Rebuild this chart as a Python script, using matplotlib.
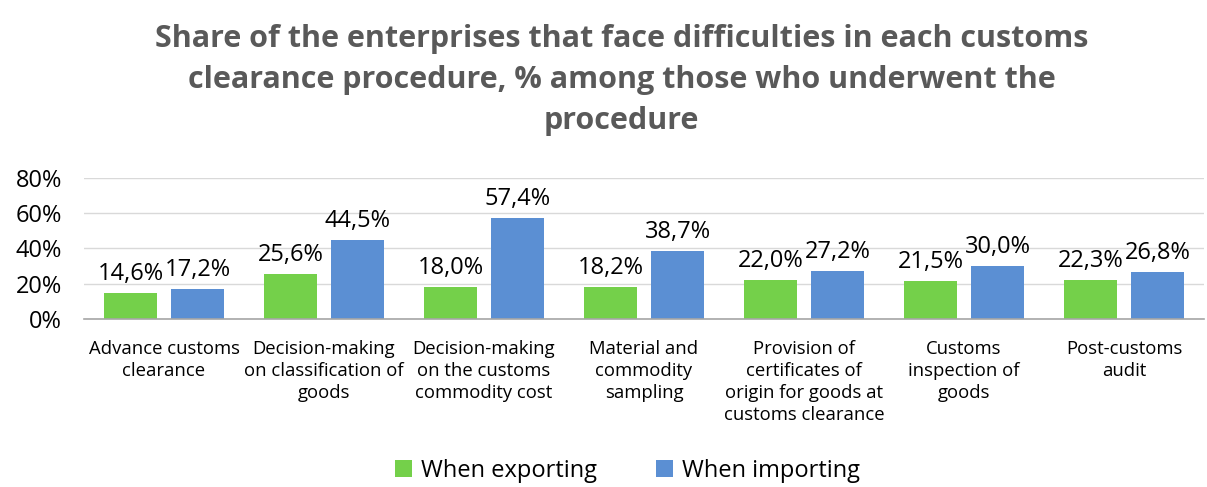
import matplotlib.pyplot as plt
import numpy as np

plt.rcParams['font.family'] = ['Open Sans', 'DejaVu Sans']

procedures = [
    "Advance customs\nclearance",
    "Decision-making\non classification of\ngoods",
    "Decision-making\non the customs\ncommodity cost",
    "Material and\ncommodity\nsampling",
    "Provision of\ncertificates of\norigin for goods at\ncustoms clearance",
    "Customs\ninspection of\ngoods",
    "Post-customs\naudit",
]
exporting = [14.6, 25.6, 18.0, 18.2, 22.0, 21.5, 22.3]
importing = [17.2, 44.5, 57.4, 38.7, 27.2, 30.0, 26.8]

green = "#74D04A"
blue = "#5B8FD3"

fig = plt.figure(figsize=(12.07, 4.87), dpi=100)
ax = fig.add_axes([0.0696, 0.345, 0.928, 0.29])

x = np.arange(len(procedures))
w = 0.33
off = 0.21
b1 = ax.bar(x - off, exporting, w, color=green, label="When exporting", zorder=3)
b2 = ax.bar(x + off, importing, w, color=blue, label="When importing", zorder=3)

def fmt(v):
    return f"{v:.1f}%".replace(".", ",")

for bars, vals in ((b1, exporting), (b2, importing)):
    for r, v in zip(bars, vals):
        ax.annotate(fmt(v), (r.get_x() + r.get_width() / 2, v),
                    xytext=(0, 5), textcoords="offset points",
                    ha="center", va="bottom", fontsize=17, color="#000000")

ax.set_xlim(-0.5, len(procedures) - 0.5)
ax.set_ylim(0, 80)
ax.set_yticks([0, 20, 40, 60, 80])
ax.set_yticklabels([f"{t}%" for t in [0, 20, 40, 60, 80]], fontsize=17)
ax.set_xticks(x)
ax.set_xticklabels(procedures, fontsize=13.3, linespacing=1.28)
ax.tick_params(axis="x", length=0, pad=15)
ax.tick_params(axis="y", length=0, pad=16)
ax.grid(axis="y", color="#D9D9D9", linewidth=1, zorder=0)
for s in ("top", "right", "left"):
    ax.spines[s].set_visible(False)
ax.spines["bottom"].set_color("#A6A6A6")
ax.spines["bottom"].set_linewidth(1.2)
ax.spines["bottom"].set_zorder(4)

fig.text(0.515, 0.95,
         "Share of the enterprises that face difficulties in each customs\n"
         "clearance procedure, % among those who underwent the\nprocedure",
         ha="center", va="top", fontsize=22, fontweight="bold",
         color="#595959", linespacing=1.48)

fig.legend(handles=[b1, b2], loc="lower center", bbox_to_anchor=(0.52, -0.035),
           ncol=2, frameon=False, fontsize=17, handlelength=0.7,
           handleheight=0.7, columnspacing=2.5, handletextpad=0.4)

fig.savefig("out.png", dpi=100)
